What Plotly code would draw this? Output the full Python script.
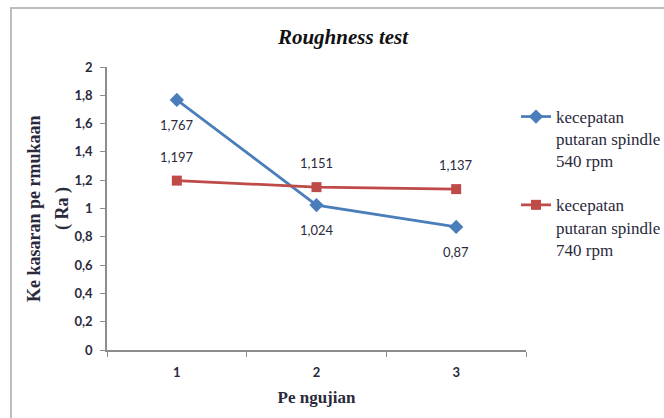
import plotly.graph_objects as go

# Roughness measurements per test run
pengujian = [1, 2, 3]
ra_540 = [1.767, 1.024, 0.87]
ra_740 = [1.197, 1.151, 1.137]
y_ticks = [0, 0.2, 0.4, 0.6, 0.8, 1.0, 1.2, 1.4, 1.6, 1.8, 2.0]

name_540 = "kecepatan<br>putaran spindle<br>540 rpm"
name_740 = "kecepatan<br>putaran spindle<br>740 rpm"

BLUE = "#4A7EBB"
RED = "#BE4B48"
TXT = "#2A2A3C"
AXIS = "#8C8C8C"
W, H = 664, 418


def fmt(v):
    return ("%g" % v).replace(".", ",")


fig = go.Figure()
fig.add_trace(go.Scatter(
    x=pengujian, y=ra_540, mode="lines+markers", name=name_540,
    legendgroup="a",
    line=dict(color=BLUE, width=2.75),
    marker=dict(symbol="diamond", size=11, color=BLUE),
))
fig.add_trace(go.Scatter(
    x=pengujian, y=ra_740, mode="lines+markers", name=name_740,
    legendgroup="b",
    line=dict(color=RED, width=2.75),
    marker=dict(symbol="square", size=10, color=RED),
))

annotations = []
for xv, yv in zip(pengujian, ra_540):
    annotations.append(dict(x=xv, y=yv, text=fmt(yv), showarrow=False,
                            yshift=-25, font=dict(family="Lato", size=13, color=TXT)))
for xv, yv in zip(pengujian, ra_740):
    annotations.append(dict(x=xv, y=yv, text=fmt(yv), showarrow=False,
                            yshift=24, font=dict(family="Lato", size=13, color=TXT)))

# y-axis title, two rotated lines
for xpx, txt in [(34, "Ke kasaran pe rmukaan"), (62, "( Ra )")]:
    annotations.append(dict(
        xref="paper", yref="paper", x=xpx / W, y=1 - 209 / H, textangle=-90,
        xanchor="center", yanchor="middle",
        text="<b>%s</b>" % txt, showarrow=False,
        font=dict(family="Liberation Serif", size=18, color=TXT),
    ))

fig.update_layout(
    width=W, height=H,
    margin=dict(l=0, r=0, t=0, b=0, autoexpand=False),
    paper_bgcolor="white", plot_bgcolor="white",
    separators=",.",
    title=dict(text="<b><i>Roughness test</i></b>", x=343 / W, xanchor="center",
               y=1 - 37 / H, yanchor="middle",
               font=dict(family="Liberation Serif", size=21, color="#111111")),
    xaxis=dict(
        domain=[107 / W, 526 / W], range=[0.5, 3.5], automargin=False,
        tickvals=pengujian, ticktext=[str(v) for v in pengujian],
        ticks="", showgrid=False, zeroline=False,
        showline=True, linecolor=AXIS, linewidth=1.5,
        tickfont=dict(family="Lato", size=13, color=TXT, weight="bold"),
        ticklabelstandoff=10,
        minor=dict(tickvals=[0.5, 1.5, 2.5, 3.5], ticks="outside", ticklen=5,
                   tickcolor=AXIS, showgrid=False),
        title=dict(text="<b>Pe ngujian</b>", standoff=12,
                   font=dict(family="Liberation Serif", size=17, color=TXT)),
    ),
    yaxis=dict(
        domain=[(H - 350) / H, (H - 67) / H], range=[0, 2], automargin=False,
        tickvals=y_ticks, ticktext=[fmt(v) for v in y_ticks],
        ticks="outside", ticklen=5, tickcolor=AXIS,
        showgrid=False, zeroline=False,
        showline=True, linecolor=AXIS, linewidth=1.5,
        tickfont=dict(family="Lato", size=13, color=TXT, weight="bold"),
        ticklabelstandoff=5,
    ),
    legend=dict(
        x=516 / W, y=1 - 99 / H, xanchor="left", yanchor="top",
        font=dict(family="Liberation Serif", size=17, color=TXT),
        tracegroupgap=19, itemwidth=30, valign="top",
        bgcolor="rgba(0,0,0,0)",
    ),
    annotations=annotations,
    shapes=[dict(type="rect", xref="paper", yref="paper",
                 x0=11 / W, x1=1.2, y0=-0.2, y1=1 - 8 / H,
                 line=dict(color="#BDBDBD", width=2), layer="below")],
)

fig.write_html("out.html")
